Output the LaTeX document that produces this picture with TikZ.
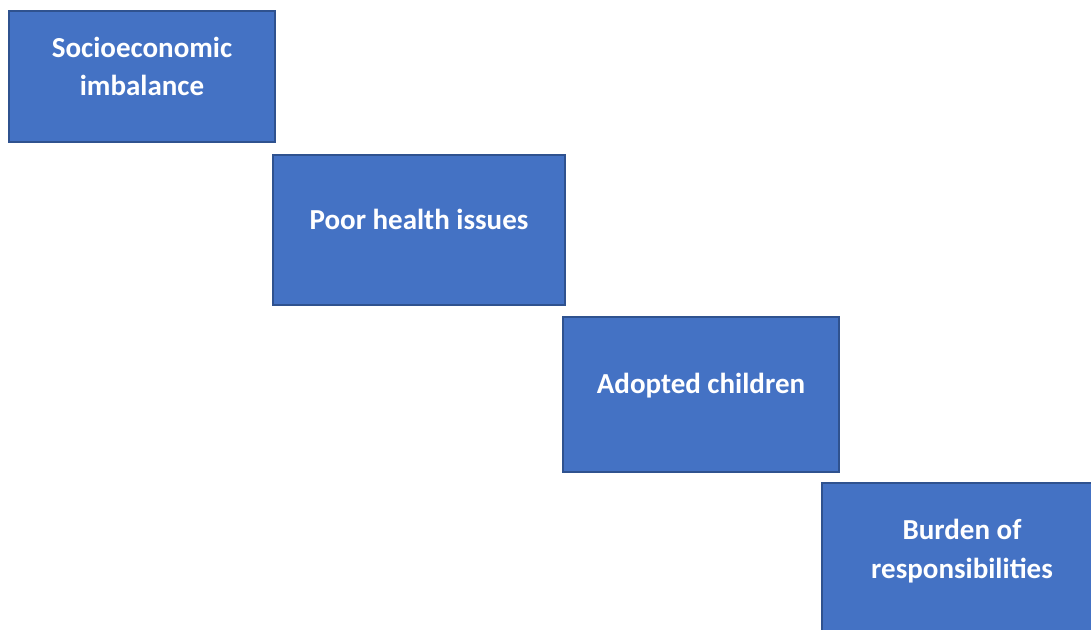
\documentclass[tikz,border=0pt]{standalone}
\usepackage{fontspec}
\setmainfont{Carlito}
\usetikzlibrary{positioning}

\definecolor{boxblue}{HTML}{4472C4}
\definecolor{boxedge}{HTML}{2F528F}

\tikzset{
  stepbox/.style={draw=boxedge,fill=boxblue,line width=1.2pt,inner sep=0pt},
  steptext/.style={text=white,font=\fontsize{21.75}{29}\selectfont\bfseries,align=center}
}

\begin{document}
\begin{tikzpicture}[x=0.75pt,y=-0.75pt]
\useasboundingbox (0,0) rectangle (1091,629);

\node[stepbox,minimum width=199.5pt,minimum height=98.25pt]   (socio)   at (142,76.5)  {};
\node[stepbox,minimum width=219pt,minimum height=112.5pt]     (health)  at (419,230)   {};
\node[stepbox,minimum width=207pt,minimum height=116.25pt]    (adopted) at (701,394.5) {};
\node[stepbox,minimum width=210pt,minimum height=117pt]       (burden)  at (962,561)   {};

\node[steptext] (sociotext)   at ([yshift=7.5pt]socio.center)   {Socioeconomic\\imbalance};
\node[steptext] (healthtext)  at ([yshift=8pt]health.center)    {Poor health issues};
\node[steptext] (adoptedtext) at ([yshift=6.5pt]adopted.center) {Adopted children};
\node[steptext] (burdentext)  at ([yshift=7.5pt]burden.center)  {Burden of\\responsibilities};

\end{tikzpicture}
\end{document}
